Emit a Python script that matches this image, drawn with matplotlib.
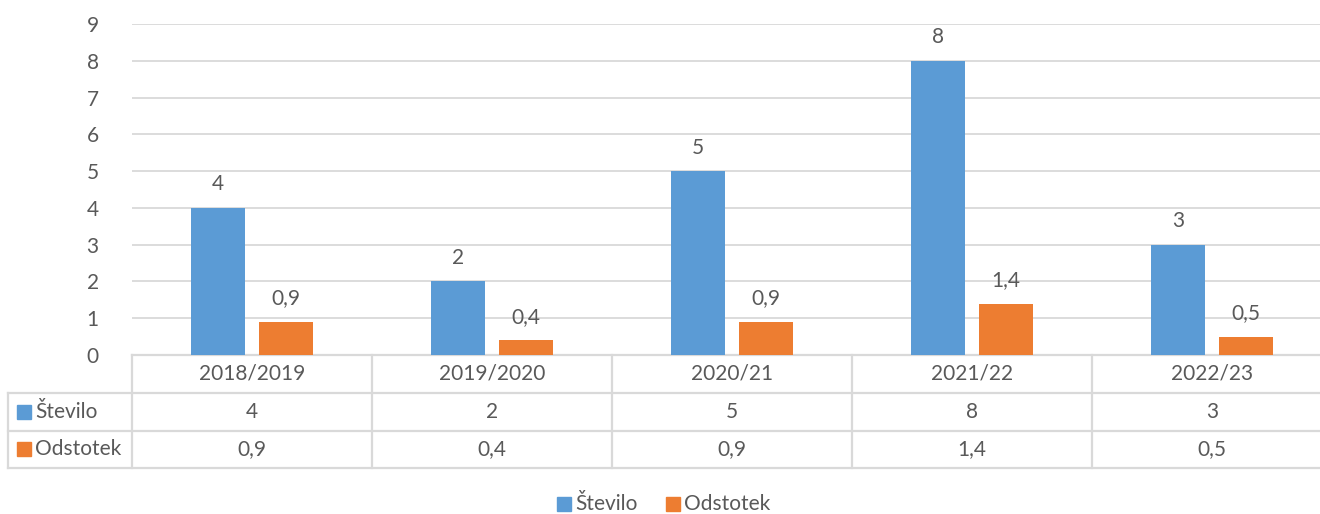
import matplotlib
matplotlib.use("Agg")
import matplotlib.pyplot as plt
from matplotlib.patches import Rectangle
from matplotlib.lines import Line2D

categories = ["2018/2019", "2019/2020", "2020/21", "2021/22", "2022/23"]
stevilo = [4, 2, 5, 8, 3]
odstotek = [0.9, 0.4, 0.9, 1.4, 0.5]
series_names = ["Število", "Odstotek"]
yticks = list(range(0, 10))

BLUE = "#5B9BD5"
ORANGE = "#ED7D31"
GRID = "#D9D9D9"
TXT = "#595959"
FS = 15

plt.rcParams['font.family'] = ['Lato', 'DejaVu Sans']

W, H = 1320, 514
fig = plt.figure(figsize=(W / 100, H / 100), dpi=100)
left_px, right_px, top_px, bot_px = 132, 1332, 24, 355
ax = fig.add_axes([left_px / W, 1 - bot_px / H, (right_px - left_px) / W, (bot_px - top_px) / H])

def fmt(v):
    s = f"{v:g}"
    return s.replace(".", ",")

x = list(range(len(categories)))
bw = 0.225
off = 0.1417
ax.bar([i - off for i in x], stevilo, width=bw, color=BLUE, zorder=3)
ax.bar([i + off for i in x], odstotek, width=bw, color=ORANGE, zorder=3)
for i in x:
    ax.annotate(fmt(stevilo[i]), (i - off, stevilo[i]), xytext=(0, 17), textcoords="offset points",
                ha="center", va="center", fontsize=FS, color=TXT)
    ax.annotate(fmt(odstotek[i]), (i + off, odstotek[i]), xytext=(0, 17), textcoords="offset points",
                ha="center", va="center", fontsize=FS, color=TXT)

ax.set_xlim(-0.5, len(categories) - 0.5)
ax.set_ylim(0, 9)
ax.set_yticks(yticks)
ax.set_yticklabels([str(t) for t in yticks], fontsize=FS, color=TXT)
ax.tick_params(axis="y", length=0, pad=24)
ax.set_xticks([])
ax.grid(axis="y", color=GRID, linewidth=1.3, zorder=0)
for s in ax.spines.values():
    s.set_visible(False)

# data table (drawn in axes coordinates below the plot)
ph = bot_px - top_px
def yax(py):
    return (bot_px - py) / ph
def xax(px):
    return (px - left_px) / (right_px - left_px)

row_lines = [355, 392.5, 430.5, 468]
lw = 1.6
tr = ax.transAxes
def hline(x0, x1, y):
    ax.add_line(Line2D([x0, x1], [y, y], transform=tr, color=GRID, lw=lw, clip_on=False))
def vline(xx, y0, y1):
    ax.add_line(Line2D([xx, xx], [y0, y1], transform=tr, color=GRID, lw=lw, clip_on=False))

hline(0, 1, yax(row_lines[0]))
for py in row_lines[1:]:
    hline(xax(8), 1, yax(py))
vline(xax(8), yax(row_lines[1]), yax(row_lines[3]))
for k in range(len(categories) + 1):
    vline(k / len(categories), yax(row_lines[0]), yax(row_lines[3]))

rows = [categories, [fmt(v) for v in stevilo], [fmt(v) for v in odstotek]]
for r in range(3):
    yc = yax((row_lines[r] + row_lines[r + 1]) / 2)
    for i in x:
        ax.text((i + 0.5) / len(categories), yc, rows[r][i], transform=tr, ha="center", va="center",
                fontsize=FS, color=TXT, clip_on=False)

for r, (name, col) in enumerate(zip(series_names, [BLUE, ORANGE])):
    yc_px = (row_lines[r + 1] + row_lines[r + 2]) / 2
    fig.patches.append(Rectangle((17 / W, 1 - (yc_px + 7) / H), 14 / W, 14 / H,
                                 transform=fig.transFigure, color=col))
    fig.text(35 / W, 1 - yc_px / H, name, ha="left", va="center", fontsize=FS, color=TXT)

# legend
leg_y = 504
items = [(557, BLUE, series_names[0]), (666, ORANGE, series_names[1])]
for px, col, name in items:
    fig.patches.append(Rectangle((px / W, 1 - (leg_y + 7) / H), 14 / W, 14 / H,
                                 transform=fig.transFigure, color=col))
    fig.text((px + 18) / W, 1 - leg_y / H, name, ha="left", va="center", fontsize=FS, color=TXT)

fig.savefig("out.png", dpi=100, facecolor="white")
